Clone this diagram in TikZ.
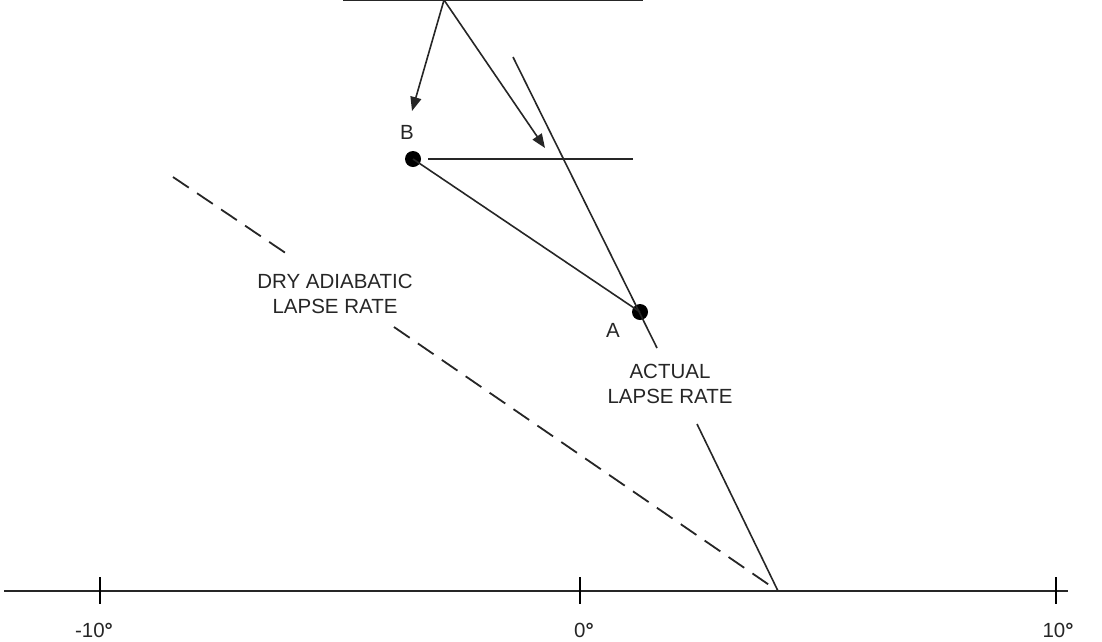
\documentclass[tikz,border=0pt]{standalone}
\usepackage{fontspec}
\setmainfont{Liberation Sans}
\usetikzlibrary{arrows.meta}
\begin{document}
\begin{tikzpicture}[x=1pt,y=-1pt,
  ln/.style={line width=1.6pt,draw=black!85},
  dsh/.style={line width=1.8pt,draw=black!85,dash pattern=on 19pt off 10pt},
  arr/.style={ln,-{Triangle[length=14pt,width=11pt]}},
  dot/.style={circle,fill=black,inner sep=0pt,minimum size=16pt},
  lbl/.style={inner sep=0pt,font=\fontsize{20.5}{25}\selectfont,anchor=base,text=black!85},
  deg/.style={lbl},
  tick/.style={line width=1.6pt}]
\useasboundingbox (0,0) rectangle (1102,641);
% axis
\coordinate (ax0) at (4,591);
\coordinate (ax1) at (1068,591);
\draw[line width=1.7pt,draw=black!85] (ax0) -- (ax1);
\foreach \x/\n in {100/m,580/z,1056/p}{
  \coordinate (t\n a) at (\x,577);
  \coordinate (t\n b) at (\x,604);
  \draw[tick] (t\n a) -- (t\n b);
}
\node[deg] (lm) at (94,637) {-10{\bfseries °}};
\node[deg] (lz) at (584,637) {0{\bfseries °}};
\node[deg] (lp) at (1058,637) {10{\bfseries °}};
% top line and arrows
\coordinate (top0) at (343,0);
\coordinate (top1) at (643,0);
\draw[ln] (top0) -- (top1);
\coordinate (apex) at (444,0);
\coordinate (tipB) at (412,111);
\coordinate (tipR) at (545,148);
\draw[arr] (apex) -- (tipB);
\draw[arr] (apex) -- (tipR);
% B and A
\node[dot] (B) at (413,159) {};
\node[dot] (A) at (640,312) {};
\node[lbl] (Blbl) at (407,139) {B};
\node[lbl] (Albl) at (613,337) {A};
\coordinate (h0) at (428,159);
\coordinate (h1) at (633,159);
\draw[ln] (h0) -- (h1);
\draw[ln] (B.center) -- (A.center);
% actual lapse rate
\coordinate (act0) at (513,57);
\coordinate (act1) at (657,348);
\coordinate (act2) at (697,424);
\coordinate (base) at (778,591);
\draw[ln] (act0) -- (act1);
\draw[ln] (act2) -- (base);
% dry adiabatic
\coordinate (dry0) at (173,177);
\coordinate (dry1) at (293,258);
\coordinate (dry2) at (394,327);
\draw[dsh] (dry0) -- (dry1);
\draw[dsh] (dry2) -- (base);
% labels
\node[lbl] (dryl1) at (335,288) {DRY ADIABATIC};
\node[lbl] (dryl2) at (335,313) {LAPSE RATE};
\node[lbl] (actl1) at (670,378) {ACTUAL};
\node[lbl] (actl2) at (670,403) {LAPSE RATE};
\end{tikzpicture}
\end{document}
